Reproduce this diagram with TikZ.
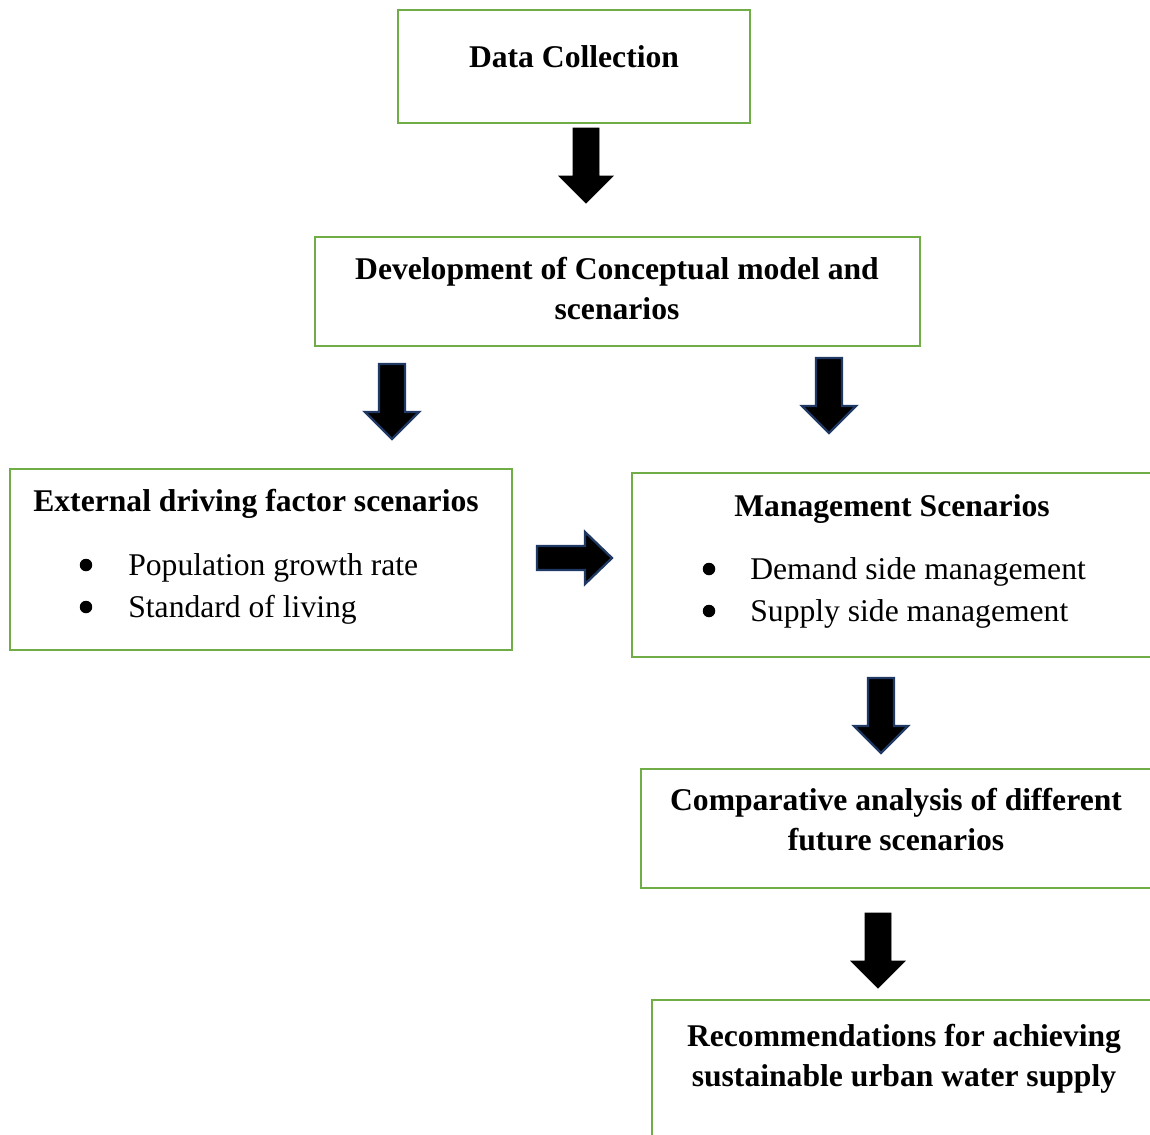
\documentclass[tikz,border=0pt]{standalone}
\usepackage{fontspec}
\setmainfont{Liberation Serif}
\definecolor{boxgreen}{HTML}{70AD47}
\definecolor{arrownavy}{HTML}{1F3864}
\tikzset{
	darrow/.pic={\filldraw (-13,0) -- (13,0) -- (13,48) -- (27,48) -- (0,75) -- (-27,48) -- (-13,48) -- cycle;},
	rarrow/.pic={\filldraw (0,-12) -- (0,12) -- (48,12) -- (48,26) -- (75,0) -- (48,-26) -- (48,-12) -- cycle;}
}
\begin{document}
\begin{tikzpicture}[x=0.02cm, y=-0.02cm,
		box/.style={draw=boxgreen, line width=1.2pt},
		title/.style={font=\fontsize{18}{22.4}\selectfont\bfseries, align=center, anchor=base},
		item/.style={font=\fontsize{18}{22.4}\selectfont, anchor=base west, inner sep=0pt},
		dot/.style={circle, fill=black, inner sep=0pt, minimum size=0.25cm},
		blackarrow/.style={fill=black, draw=black, line width=0.4pt},
		navyarrow/.style={fill=black, draw=arrownavy, line width=1.3pt}]
	\clip (0,0) rectangle (1150,1134);

	% boxes
	\draw[box] (398,10) rectangle (750,123);
	\draw[box] (315,237) rectangle (920,346);
	\draw[box] (10,469) rectangle (512,650);
	\draw[box] (632,473) rectangle (1165,657);
	\draw[box] (641,769) rectangle (1165,888);
	\draw[box] (652,1000) rectangle (1165,1150);

	% texts
	\node[title] at (574,67) (data) {Data Collection};
	\node[title] at (617,319) (model) {Development of Conceptual model and\\scenarios};
	\node[title] at (256,511) (ext) {External driving factor scenarios};
	\node[dot] at (86,565) (b1) {};
	\node[item] at (128,575) (pop) {Population growth rate};
	\node[dot] at (86,607) (b2) {};
	\node[item] at (128,617) (life) {Standard of living};
	\node[title] at (892,516) (mgmt) {Management Scenarios};
	\node[dot] at (709,569) (b3) {};
	\node[item] at (750,579) (demand) {Demand side management};
	\node[dot] at (709,611) (b4) {};
	\node[item] at (750,621) (supply) {Supply side management};
	\node[title] at (896,850) (comp) {Comparative analysis of different\\future scenarios};
	\node[title] at (904,1086) (rec) {Recommendations for achieving\\sustainable urban water supply};

	% arrows
	\pic[blackarrow] at (586,128) {darrow};
	\pic[navyarrow] at (392,364) {darrow};
	\pic[navyarrow] at (829,358) {darrow};
	\pic[navyarrow] at (537,558) {rarrow};
	\pic[navyarrow] at (881,678) {darrow};
	\pic[blackarrow] at (878,913) {darrow};
\end{tikzpicture}
\end{document}
